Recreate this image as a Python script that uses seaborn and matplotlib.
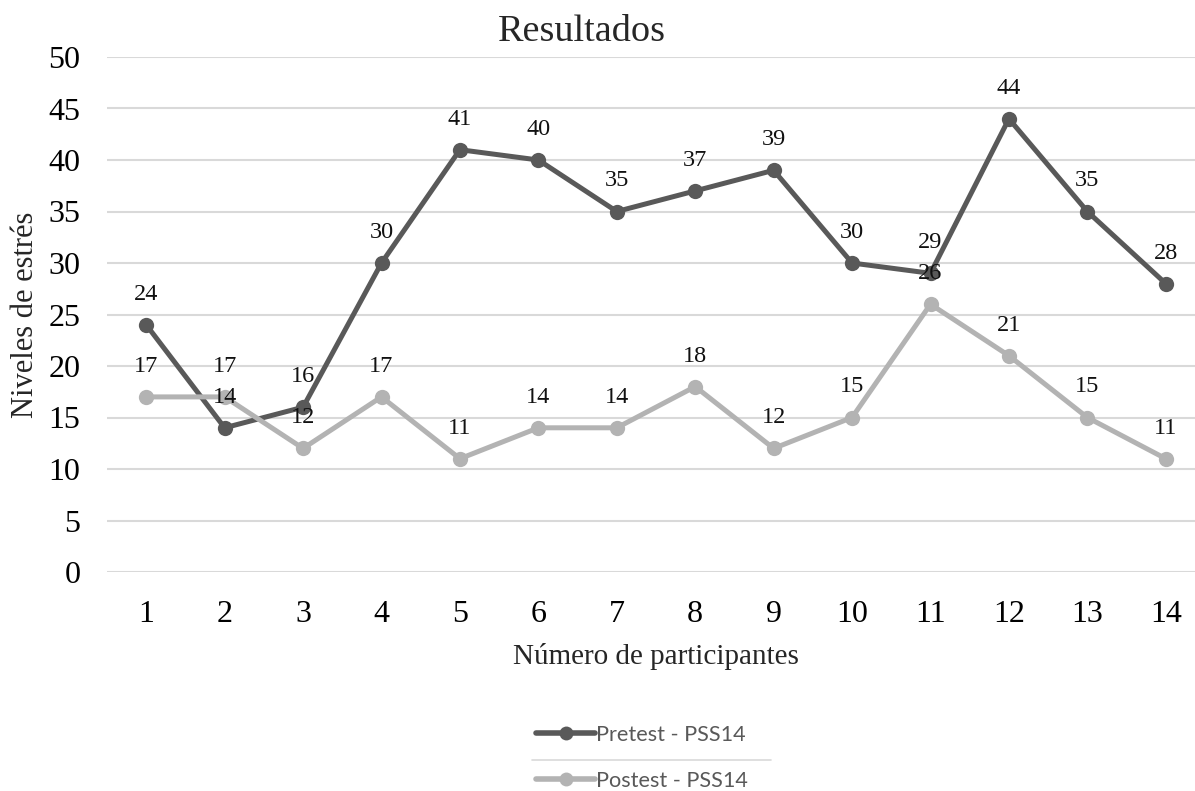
import matplotlib
matplotlib.use("Agg")
import matplotlib.pyplot as plt
import matplotlib.lines as mlines
import numpy as np
import pandas as pd
import seaborn as sns

participants = list(range(1, 15))
pretest = [24, 14, 16, 30, 41, 40, 35, 37, 39, 30, 29, 44, 35, 28]
postest = [17, 17, 12, 17, 11, 14, 14, 18, 12, 15, 26, 21, 15, 11]
series_names = ["Pretest - PSS14", "Postest - PSS14"]
y_ticks = list(range(0, 51, 5))

df = pd.DataFrame({
    "participante": participants * 2,
    "nivel": pretest + postest,
    "serie": [series_names[0]] * 14 + [series_names[1]] * 14,
})

sns.set_theme(style="white")
plt.rcParams["font.family"] = ["Liberation Serif", "DejaVu Serif"]

colors = {series_names[0]: "#595959", series_names[1]: "#b3b3b3"}

fig = plt.figure(figsize=(11.95, 7.91), dpi=100)
ax = fig.add_axes([107 / 1195, 1 - 572 / 791, 1098 / 1195, 515 / 791])

sns.lineplot(data=df, x="participante", y="nivel", hue="serie",
             palette=colors, marker="o", markersize=11, linewidth=3.6,
             markeredgewidth=0, ax=ax, legend=False, zorder=3)

# data labels above each point
for name, vals in zip(series_names, [pretest, postest]):
    for x, v in zip(participants, vals):
        ax.annotate(str(v), (x, v), xytext=(0, 22), textcoords="offset points",
                    ha="center", va="center", fontsize=17.5, color="#111111",
                    zorder=5)

ax.set_xlim(0.5, 14.5)
ax.set_ylim(0, 50)
ax.set_xticks(participants)
ax.set_yticks(y_ticks)
ax.tick_params(axis="both", length=0, labelsize=23, colors="black")
ax.tick_params(axis="y", pad=19)
ax.tick_params(axis="x", pad=20)
ax.grid(axis="y", color="#d9d9d9", linewidth=1.5)
ax.set_axisbelow(True)
for s in ax.spines.values():
    s.set_visible(False)

ax.set_xlabel("Número de participantes", fontsize=21)
ax.set_ylabel("Niveles de estrés", fontsize=22)
ax.xaxis.set_label_coords((656 - 107) / 1098, -(657 - 572) / 515)
ax.yaxis.set_label_coords(-(107 - 26) / 1098, 0.5)
ax.xaxis.label.set_va("center")
ax.yaxis.label.set_va("center")
fig.text(582 / 1195, 1 - 32 / 791, "Resultados", ha="center", va="center",
         fontsize=27.5)

# legend
handles = [mlines.Line2D([], [], color=colors[n], marker="o", markersize=10,
                         linewidth=4, markeredgewidth=0) for n in series_names]
leg = fig.legend(handles, series_names, loc="center", bbox_to_anchor=(642 / 1195, 1 - 758 / 791),
                 ncol=1, frameon=False, handlelength=2.7, handletextpad=0.05,
                 labelspacing=1.2, prop={"family": ["Lato", "DejaVu Sans"], "size": 15.6})
for t in leg.get_texts():
    t.set_color("#595959")
fig.add_artist(mlines.Line2D([532 / 1195, 771 / 1195], [1 - 760 / 791, 1 - 760 / 791],
                             color="#d9d9d9", linewidth=1.2, transform=fig.transFigure))

fig.savefig("out.png", dpi=100)
